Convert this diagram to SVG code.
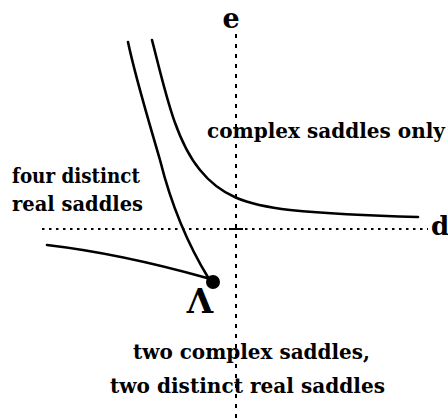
<svg xmlns="http://www.w3.org/2000/svg" width="448" height="419" viewBox="0 0 448 419">
<style>
.t{font-family:"DejaVu Serif","Liberation Serif",serif;font-weight:bold;fill:#000}
.c{fill:none;stroke:#000;stroke-width:2.6;stroke-linecap:round;stroke-linejoin:round}
.ax{fill:none;stroke:#000;stroke-width:2}
</style>
<rect width="448" height="419" fill="#fff"/>
<g id="connectors">
<path class="ax" d="M236,34 L236,419" stroke-dasharray="4 6"/>
<path class="ax" d="M42,229 L428,229" stroke-dasharray="2.5 4.5"/>
<path class="ax" d="M229,229 L243,229"/>
<path class="c" d="M128,42 C136,80 150,125 160,160 C170,200 185,240 209,279"/>
<path class="c" d="M152,40 C165,90 175,140 200,170 C220,195 245,205 290,210 C330,214 380,216 418,217"/>
<path class="c" d="M47,245 C90,250 150,262 207,278"/>
</g>
<g id="lambda">
<circle cx="213" cy="282" r="7" fill="#000"/>
<text class="t" x="200" y="313" font-size="34" text-anchor="middle">Λ</text>
</g>
<g id="axis-e"><text class="t" x="231" y="28" font-size="27" text-anchor="middle">e</text></g>
<g id="axis-d"><text class="t" x="440" y="235" font-size="26" text-anchor="middle">d</text></g>
<g id="complex-only"><text class="t" x="207" y="138" font-size="20" textLength="238" lengthAdjust="spacingAndGlyphs">complex saddles only</text></g>
<g id="four-real">
<text class="t" x="12" y="183" font-size="20" textLength="128" lengthAdjust="spacingAndGlyphs">four distinct</text>
<text class="t" x="12" y="211" font-size="20" textLength="131" lengthAdjust="spacingAndGlyphs">real saddles</text>
</g>
<g id="two-complex">
<text class="t" x="133" y="359" font-size="20" textLength="237" lengthAdjust="spacingAndGlyphs">two complex saddles,</text>
<text class="t" x="110" y="393" font-size="20" textLength="275" lengthAdjust="spacingAndGlyphs">two distinct real saddles</text>
</g>
</svg>
